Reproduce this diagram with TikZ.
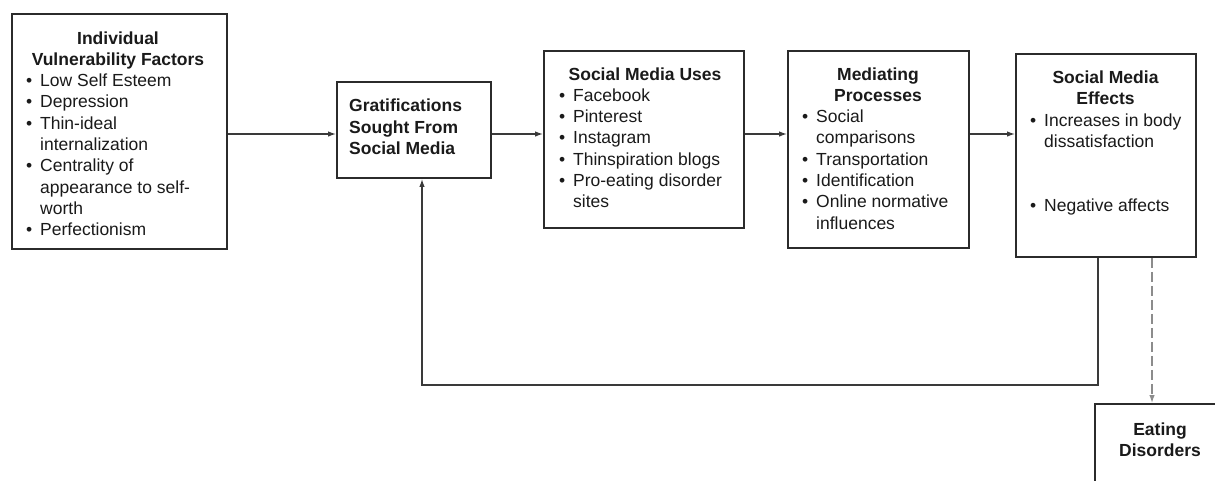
\documentclass[tikz,border=0pt]{standalone}
\usepackage{fontspec}
\setmainfont{Liberation Sans}
\usetikzlibrary{arrows.meta}
\definecolor{boxcol}{HTML}{2B2B2B}
\definecolor{linecol}{HTML}{3A3A3A}
\definecolor{dashcol}{HTML}{8C8C8C}
\definecolor{txtcol}{HTML}{1A1A1A}
\begin{document}
\begin{tikzpicture}[x=1pt,y=-1pt,
  box/.style={draw=boxcol, line width=1.9pt, inner sep=0pt, fill=white},
  txt/.style={inner sep=0pt, text=txtcol, font=\fontsize{17.5}{21.3}\selectfont},
  ttl/.style={txt, anchor=base, font=\fontsize{17.5}{21.3}\selectfont\bfseries},
  lst/.style={txt, anchor=base west},
  arr/.style={draw=linecol, line width=1.3pt, -{Latex[length=8pt,width=5.5pt]}},
  dasharr/.style={draw=dashcol, line width=1.3pt, dash pattern=on 10pt off 4pt, -{Latex[length=8pt,width=5.5pt]}}
]
\useasboundingbox (0,0) rectangle (1215,480);
\clip (0,0) rectangle (1215,480);

% boxes
\node[box, minimum width=215pt, minimum height=235pt] (ivf) at (119.5,131.5) {};
\node[box, minimum width=154pt, minimum height=96pt] (grat) at (414,130) {};
\node[box, minimum width=200pt, minimum height=177pt] (uses) at (644,139.5) {};
\node[box, minimum width=181pt, minimum height=197pt] (med) at (878.5,149.5) {};
\node[box, minimum width=180pt, minimum height=203pt] (eff) at (1106,155.5) {};
\node[box, minimum width=130pt, minimum height=110pt] (ed) at (1160,459) {};

% texts
\node[ttl] (ivft) at (118,44) {\begin{tabular}[t]{@{}c@{}}Individual\\Vulnerability Factors\end{tabular}};
\node[lst] (ivfl) at (26,86.6) {\begin{tabular}[t]{@{}p{14pt}@{}l@{}}
\textbullet & Low Self Esteem\\
\textbullet & Depression\\
\textbullet & Thin-ideal\\
 & internalization\\
\textbullet & Centrality of\\
 & appearance to self-\\
 & worth\\
\textbullet & Perfectionism
\end{tabular}};

\node[lst, font=\fontsize{17.5}{21.3}\selectfont\bfseries] (gratt) at (349,111.7) {\begin{tabular}[t]{@{}l@{}}Gratifications\\Sought From\\Social Media\end{tabular}};

\node[ttl] (usest) at (645,80) {\begin{tabular}[t]{@{}c@{}}Social Media Uses\end{tabular}};
\node[lst] (usesl) at (559,101.3) {\begin{tabular}[t]{@{}p{14pt}@{}l@{}}
\textbullet & Facebook\\
\textbullet & Pinterest\\
\textbullet & Instagram\\
\textbullet & Thinspiration blogs\\
\textbullet & Pro-eating disorder\\
 & sites
\end{tabular}};

\node[ttl] (medt) at (878,80) {\begin{tabular}[t]{@{}c@{}}Mediating\\Processes\end{tabular}};
\node[lst] (medl) at (802,122.6) {\begin{tabular}[t]{@{}p{14pt}@{}l@{}}
\textbullet & Social\\
 & comparisons\\
\textbullet & Transportation\\
\textbullet & Identification\\
\textbullet & Online normative\\
 & influences
\end{tabular}};

\node[ttl] (efft) at (1105.5,83.3) {\begin{tabular}[t]{@{}c@{}}Social Media\\Effects\end{tabular}};
\node[lst] (effl) at (1030,126) {\begin{tabular}[t]{@{}p{14pt}@{}l@{}}
\textbullet & Increases in body\\
 & dissatisfaction\\
 & \\
 & \\
\textbullet & Negative affects
\end{tabular}};

\node[ttl] (edt) at (1160,435) {\begin{tabular}[t]{@{}c@{}}Eating\\Disorders\end{tabular}};

% connectors
\coordinate (row) at (0,134);
\coordinate (fbr) at (1098,385);
\coordinate (fbl) at (422,385);
\coordinate (dx) at (1152,0);
\draw[arr] (ivf.east |- row) -- (grat.west |- row);
\draw[arr] (grat.east |- row) -- (uses.west |- row);
\draw[arr] (uses.east |- row) -- (med.west |- row);
\draw[arr] (med.east |- row) -- (eff.west |- row);
\draw[arr] (eff.south -| fbr) -- (fbr) -- (fbl) -- (grat.south -| fbl);
\draw[dasharr] (eff.south -| dx) -- (ed.north -| dx);
\end{tikzpicture}
\end{document}
